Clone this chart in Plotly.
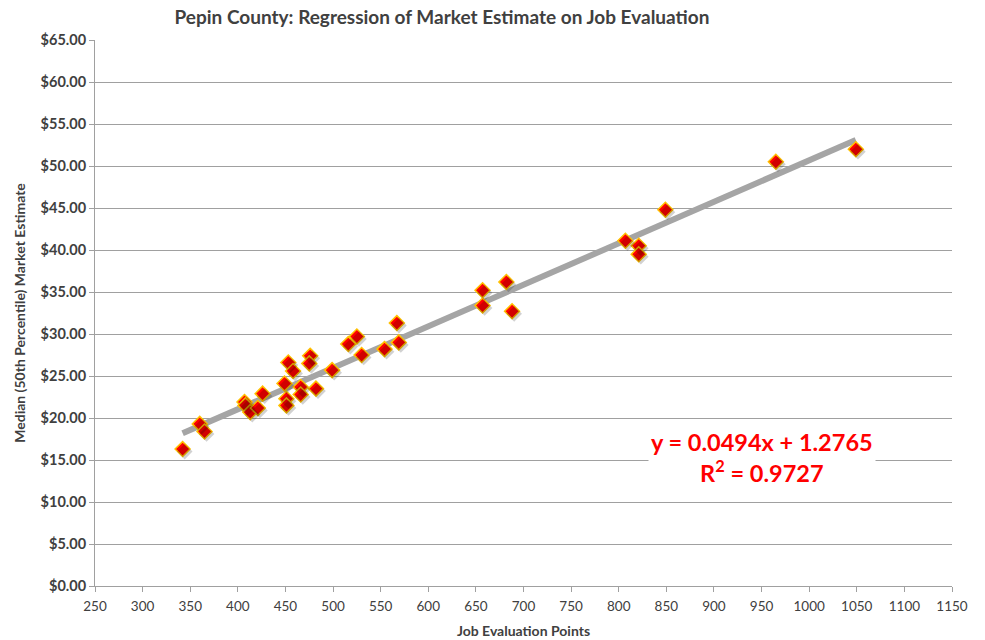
import numpy as np
import plotly.graph_objects as go

# Data
job_points = [342, 360, 365, 407, 408, 413, 421, 426, 449, 451, 451, 453, 458,
              466, 466, 476, 475, 482, 499, 516, 525, 530, 554, 567, 569,
              657, 657, 682, 688, 807, 821, 821, 849, 965, 1049]
market_estimate = [16.3, 19.3, 18.4, 21.9, 21.5, 20.7, 21.2, 22.9, 24.1, 22.3, 21.5, 26.6, 25.6,
                   23.7, 22.8, 27.4, 26.5, 23.5, 25.7, 28.8, 29.7, 27.5, 28.2, 31.3, 29.0,
                   35.2, 33.4, 36.2, 32.7, 41.1, 40.5, 39.5, 44.8, 50.5, 52.0]

# Trendline coefficients as printed on the chart
slope = 0.0494
intercept = 1.2765
r_squared = 0.9727

x_ticks = list(range(250, 1151, 50))
y_ticks = list(range(0, 66, 5))

trend_x = [min(job_points), max(job_points)]
trend_y = [slope * v + intercept for v in trend_x]

FONT = "Lato"
TXT = "#404040"
GRID = "#A0A0A0"

W, H = 985, 640

fig = go.Figure()

fig.add_trace(go.Scatter(
    x=trend_x, y=trend_y, mode="lines",
    line=dict(color="#A5A5A5", width=6),
    hoverinfo="skip", showlegend=False,
))

# subtle shadow for markers
fig.add_trace(go.Scatter(
    x=job_points, y=market_estimate, mode="markers",
    marker=dict(symbol="diamond", size=12, color="rgba(0,0,0,0.18)", line=dict(width=0)),
    hoverinfo="skip", showlegend=False,
    xaxis="x2", yaxis="y2",
))

fig.add_trace(go.Scatter(
    x=job_points, y=market_estimate, mode="markers",
    marker=dict(symbol="diamond", size=11.5, color="#FF0000",
                line=dict(color="#FFC000", width=1.5)),
    showlegend=False,
))

fig.update_layout(
    width=W, height=H,
    margin=dict(l=95, r=33, t=40, b=54),
    paper_bgcolor="white", plot_bgcolor="white",
    font=dict(family=FONT, color=TXT),
    title=dict(
        text="<b>Pepin County: Regression of Market Estimate on Job Evaluation</b>",
        font=dict(family=FONT, size=19, color=TXT),
        xref="container", x=442 / W, xanchor="center",
        yref="container", y=1 - 17 / H, yanchor="middle",
    ),
    xaxis=dict(
        range=[250, 1150], tickvals=x_ticks, ticktext=[str(v) for v in x_ticks],
        automargin=False,
        showgrid=False, zeroline=False,
        showline=True, linecolor=GRID, linewidth=1,
        ticks="outside", ticklen=5, tickcolor=GRID, ticklabelstandoff=3,
        tickfont=dict(family=FONT, size=13.5, color=TXT),
        title=dict(text="<b>Job Evaluation Points</b>",
                   font=dict(family=FONT, size=14, color=TXT), standoff=12),
    ),
    yaxis=dict(
        range=[0, 65], tickvals=y_ticks,
        ticktext=["<b>$%.2f</b>" % v for v in y_ticks],
        automargin=False,
        showgrid=True, gridcolor=GRID, gridwidth=1, zeroline=False,
        showline=True, linecolor=GRID, linewidth=1,
        ticks="outside", ticklen=5, tickcolor=GRID,
        tickfont=dict(family=FONT, size=14.5, color=TXT),
        title=dict(text="<b>Median (50th Percentile) Market Estimate</b>",
                   font=dict(family=FONT, size=14, color=TXT), standoff=11),
    ),
    # shadow axes, offset by a couple of pixels
    xaxis2=dict(range=[250 - 2.2, 1150 - 2.2], overlaying="x", visible=False),
    yaxis2=dict(range=[0 + 0.3, 65 + 0.3], overlaying="y", visible=False),
)

fig.add_annotation(
    x=950, y=15.35, xref="x", yref="y",
    text="<b>y = %.4fx + %.4f<br>R<sup>2</sup> = %.4f</b>" % (slope, intercept, r_squared),
    showarrow=False, align="center",
    font=dict(family=FONT, size=23.5, color="#FF0000"),
    bgcolor="white", borderpad=2,
)

fig.write_html("out.html", config={"displayModeBar": False},
               post_script="document.body.style.margin='0';")
